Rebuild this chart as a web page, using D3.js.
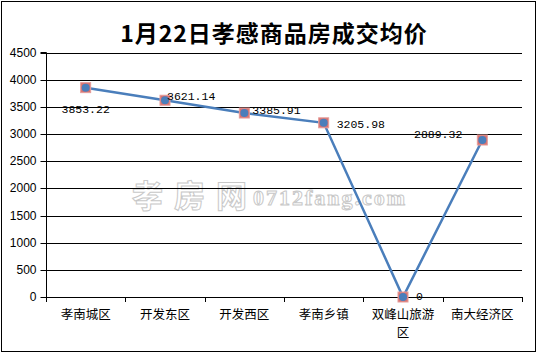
<!DOCTYPE html>
<html>
<head>
<meta charset="utf-8">
<script src="https://cdn.jsdelivr.net/npm/d3@7"></script>
<style>
  body { margin: 0; background: #fff; }
  svg { display: block; }
</style>
</head>
<body>
<svg id="chart" width="539" height="354"></svg>
<script>
const title = "1月22日孝感商品房成交均价";
const categories = ["孝南城区", "开发东区", "开发西区", "孝南乡镇", "双峰山旅游区", "南大经济区"];
const prices = [3853.22, 3621.14, 3385.91, 3205.98, 0, 2889.32];
const priceLabels = ["3853.22", "3621.14", "3385.91", "3205.98", "0", "2889.32"];
const yTicks = [0, 500, 1000, 1500, 2000, 2500, 3000, 3500, 4000, 4500];

// where each value label sits next to its point (dx, dy, anchor)
const labelPlace = [[0, 21, "middle"], [2, -4, "start"], [8, -3, "start"], [13, 1, "start"], [13, -1, "start"], [-20, -6, "end"]];

const svg = d3.select("#chart");
const plotLeft = 46, plotRight = 522, plotTop = 52.5, plotBottom = 297;

svg.append("rect")
    .attr("x", 1.5).attr("y", 1.5)
    .attr("width", 534).attr("height", 350)
    .attr("fill", "#fff").attr("stroke", "#000").attr("stroke-width", 1);

svg.append("text")
    .attr("x", 274).attr("y", 42)
    .attr("text-anchor", "middle")
    .attr("font-family", "'Noto Sans CJK SC', sans-serif")
    .attr("font-weight", "bold")
    .attr("font-size", 23)
    .attr("letter-spacing", 1)
    .text(title);

let x = d3.scaleBand().domain(categories).range([plotLeft, plotRight]);
let y = d3.scaleLinear().domain([0, 4500]).range([plotBottom, plotTop]);

// watermark
let wm = svg.append("g").attr("fill", "none").attr("stroke", "#c8c8c8").attr("stroke-width", 1);
wm.append("text")
    .attr("x", 132).attr("y", 207)
    .attr("font-family", "'Noto Sans CJK SC', sans-serif")
    .attr("font-weight", "bold")
    .attr("font-size", 31)
    .attr("letter-spacing", 11)
    .text("孝房网");
wm.append("text")
    .attr("x", 253).attr("y", 205)
    .attr("font-family", "'Liberation Serif', serif")
    .attr("font-weight", "bold")
    .attr("font-size", 22)
    .attr("letter-spacing", 2)
    .text("0712fang.com");

// grid
svg.append("g")
    .selectAll("line")
    .data(yTicks.filter(d => d > 0))
    .join("line")
    .attr("x1", plotLeft).attr("x2", plotRight)
    .attr("y1", d => Math.round(y(d)) + 0.5)
    .attr("y2", d => Math.round(y(d)) + 0.5)
    .attr("stroke", "#000");

let yAxis = svg.append("g")
    .attr("transform", `translate(${plotLeft + 0.5},0)`)
    .call(d3.axisLeft(y).tickValues(yTicks).tickSize(6).tickPadding(4).tickFormat(d3.format("d")));
yAxis.select(".domain").attr("d", `M-6,${plotTop}H0V${plotBottom}`);
yAxis.selectAll(".tick").attr("transform", d => `translate(0,${Math.round(y(d)) + 0.5})`);
yAxis.selectAll("text")
    .attr("font-family", "'Liberation Sans', Arial, sans-serif")
    .attr("font-size", 12)
    .attr("fill", "#000");

// x axis line and tick marks at band edges
let edges = categories.map(c => x(c)).concat([plotRight]);
svg.append("line")
    .attr("x1", plotLeft).attr("x2", plotRight)
    .attr("y1", plotBottom + 0.5).attr("y2", plotBottom + 0.5)
    .attr("stroke", "#000");
svg.append("g")
    .selectAll("line")
    .data(edges)
    .join("line")
    .attr("x1", d => Math.round(d) + 0.5).attr("x2", d => Math.round(d) + 0.5)
    .attr("y1", plotBottom).attr("y2", plotBottom + 5)
    .attr("stroke", "#000");

// category labels, wrapped at 5 chars
let xl = svg.append("g")
    .attr("font-family", "'Noto Sans CJK SC', sans-serif")
    .attr("font-size", 12.5)
    .attr("text-anchor", "middle");
categories.forEach(c => {
    let lines = [];
    for (let i = 0; i < c.length; i += 5) lines.push(c.slice(i, i + 5));
    let t = xl.append("text").attr("x", x(c) + x.bandwidth() / 2).attr("y", 319);
    lines.forEach((s, i) => {
        t.append("tspan").attr("x", x(c) + x.bandwidth() / 2).attr("dy", i === 0 ? 0 : 17.5).text(s);
    });
});

let cx = c => x(c) + x.bandwidth() / 2;

svg.append("path")
    .datum(prices)
    .attr("fill", "none")
    .attr("stroke", "#4A7EBB")
    .attr("stroke-width", 2.5)
    .attr("d", d3.line().x((d, i) => cx(categories[i])).y(d => y(d)));

let marks = svg.append("g")
    .selectAll("g")
    .data(prices)
    .join("g")
    .attr("transform", (d, i) => `translate(${cx(categories[i])},${y(d)})`);
marks.append("rect")
    .attr("x", -5).attr("y", -5).attr("width", 10).attr("height", 10)
    .attr("fill", "#D9726F").attr("stroke", "#E59C9A").attr("stroke-width", 1);
marks.append("circle")
    .attr("r", 4).attr("fill", "#4A7EBB");

svg.append("g")
    .attr("font-family", "'Liberation Mono', monospace")
    .attr("font-size", 11.5)
    .selectAll("text")
    .data(prices)
    .join("text")
    .attr("x", (d, i) => cx(categories[i]) + labelPlace[i][0])
    .attr("y", (d, i) => y(d) + labelPlace[i][1])
    .attr("dy", "0.35em")
    .attr("text-anchor", (d, i) => labelPlace[i][2])
    .text((d, i) => priceLabels[i]);
</script>
</body>
</html>
